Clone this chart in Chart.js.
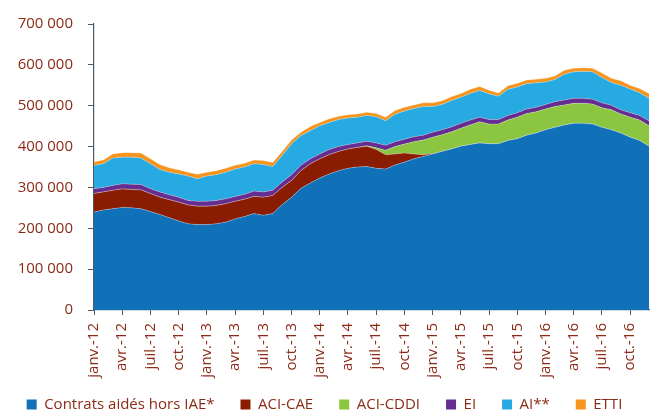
<!DOCTYPE html>
<html lang="fr">
<head>
<meta charset="utf-8">
<script src="https://cdn.jsdelivr.net/npm/chart.js@4.4.0/dist/chart.umd.min.js"></script>
<style>
  html, body { margin: 0; padding: 0; background: #ffffff; }
  #wrap { width: 659px; height: 412px; position: relative; }
</style>
</head>
<body>
<div id="wrap"><canvas id="c" width="659" height="412"></canvas></div>
<script>
// Categories (monthly, janv.-12 to déc.-16)
const months = [
  'janv.-12','févr.-12','mars-12','avr.-12','mai-12','juin-12','juil.-12','août-12','sept.-12','oct.-12','nov.-12','déc.-12',
  'janv.-13','févr.-13','mars-13','avr.-13','mai-13','juin-13','juil.-13','août-13','sept.-13','oct.-13','nov.-13','déc.-13',
  'janv.-14','févr.-14','mars-14','avr.-14','mai-14','juin-14','juil.-14','août-14','sept.-14','oct.-14','nov.-14','déc.-14',
  'janv.-15','févr.-15','mars-15','avr.-15','mai-15','juin-15','juil.-15','août-15','sept.-15','oct.-15','nov.-15','déc.-15',
  'janv.-16','févr.-16','mars-16','avr.-16','mai-16','juin-16','juil.-16','août-16','sept.-16','oct.-16','nov.-16','déc.-16'
];

// Series values, in thousands
const contratsAides = [240,245,248,251,250,248,241,234,226,218,211,209,209,211,215,223,229,236,232,236,
  258,276,298,311,323,333,341,347,350,351,347,345,355,362,370,376,382,388,394,401,
  405,409,407,407,415,419,428,433,441,447,453,457,457,455,447,441,433,423,415,401];
const aciCae = [45,44,45,45,45,46,44,42,44,46,46,45,45,45,45,43,42,42,44,44,
  42,41,43,47,47,47,47,47,48,50,46,35,27,22,12,4,1,0,0,0,
  0,0,0,0,0,0,0,0,0,0,0,0,0,0,0,0,0,0,0,0];
const aciCddi = [0,0,0,0,0,0,0,0,0,0,0,0,0,0,0,0,0,0,0,0,
  0,0,0,0,0,0,0,0,0,1,4,11,18,22,30,36,40,41,42,44,
  48,52,48,48,50,53,53,52,51,51,49,49,49,49,48,49,47,49,50,50];
const ei = [12,11,12,13,13,13,12,13,12,12,11,12,12,12,12,12,12,13,13,13,
  13,14,13,12,12,13,12,11,11,11,12,12,12,12,12,12,12,12,12,12,
  12,11,11,11,11,11,11,11,11,12,12,12,12,12,12,11,10,11,11,12];
const ai = [57,58,67,65,66,65,61,55,55,57,60,55,62,63,65,67,67,67,67,58,
  65,76,73,69,69,66,66,65,63,63,64,60,67,69,69,70,63,62,65,64,
  65,65,63,57,64,63,62,60,55,54,63,65,66,67,62,56,60,58,56,55];
const etti = [9,9,10,11,11,12,12,12,11,10,9,11,9,10,10,9,9,9,10,10,
  10,9,8,10,8,9,8,8,8,8,8,9,9,9,9,9,9,9,9,9,
  10,10,9,8,9,9,9,9,9,9,10,9,9,9,11,10,11,9,10,12];

const seriesNames = ['Contrats aidés hors IAE*','ACI-CAE','ACI-CDDI','EI','AI**','ETTI'];
const seriesData = [contratsAides, aciCae, aciCddi, ei, ai, etti];
const seriesColors = ['#1071b9','#8a1c02','#8cc540','#662d91','#27a9e1','#f7941d'];

// Y tick values
const yTicks = [0,100000,200000,300000,400000,500000,600000,700000];

const textColor = '#8b2a17';
const axisColor = '#4c5a68';
const fontFamily = '"Open Sans", "Noto Sans", sans-serif';

function fmt(v) {
  return String(v).replace(/\B(?=(\d{3})+(?!\d))/g, ' ');
}

const datasets = seriesNames.map((name, i) => ({
  label: name,
  data: seriesData[i].map(v => v * 1000),
  backgroundColor: seriesColors[i],
  borderColor: 'rgba(255,255,255,0.35)',
  borderWidth: 0.8,
  fill: i === 0 ? 'origin' : '-1',
  pointRadius: 0,
  tension: 0
}));

// Let the rotated x labels extend below the axis box, and move the legend down
const layoutTweak = {
  id: 'layoutTweak',
  afterLayout(chart) {
    const xs = chart.scales.x;
    if (xs) { xs.bottom = chart.height; }
    if (chart.legend) {
      chart.legend.top += 10;
      chart.legend.bottom += 10;
    }
  }
};

new Chart(document.getElementById('c'), {
  type: 'line',
  data: { labels: months, datasets },
  plugins: [layoutTweak],
  options: {
    responsive: false,
    animation: false,
    layout: { padding: { top: 23, right: 10, left: 0, bottom: 0 } },
    plugins: {
      tooltip: { enabled: false },
      legend: {
        position: 'bottom',
        labels: {
          boxWidth: 10,
          boxHeight: 10,
          padding: 26,
          color: textColor,
          font: { family: fontFamily, size: 15 },
          generateLabels(chart) {
            const items = Chart.defaults.plugins.legend.labels.generateLabels(chart);
            items.forEach((it, i) => { it.strokeStyle = seriesColors[i]; it.lineWidth = 0; });
            return items;
          }
        }
      }
    },
    scales: {
      x: {
        stacked: true,
        offset: false,
        afterFit(scale) { scale.height = 51; },
        grid: { drawOnChartArea: false, drawTicks: true, tickLength: 5, color: axisColor, lineWidth: 1 },
        border: { display: true, color: axisColor, width: 1.2 },
        ticks: {
          autoSkip: false,
          maxRotation: 90,
          minRotation: 90,
          padding: 8,
          color: textColor,
          font: { family: fontFamily, size: 15 },
          callback(val, idx) { return idx % 3 === 0 ? months[idx] : null; }
        }
      },
      y: {
        stacked: true,
        min: 0,
        max: 700000,
        afterFit(scale) { scale.width = 94; },
        afterBuildTicks(scale) { scale.ticks = yTicks.map(v => ({ value: v })); },
        grid: { drawOnChartArea: false, drawTicks: true, tickLength: 6, color: axisColor, lineWidth: 1 },
        border: { display: true, color: axisColor, width: 1.2 },
        ticks: {
          padding: 15,
          color: textColor,
          font: { family: fontFamily, size: 15 },
          callback(v) { return fmt(v); }
        }
      }
    }
  }
});
</script>
</body>
</html>
